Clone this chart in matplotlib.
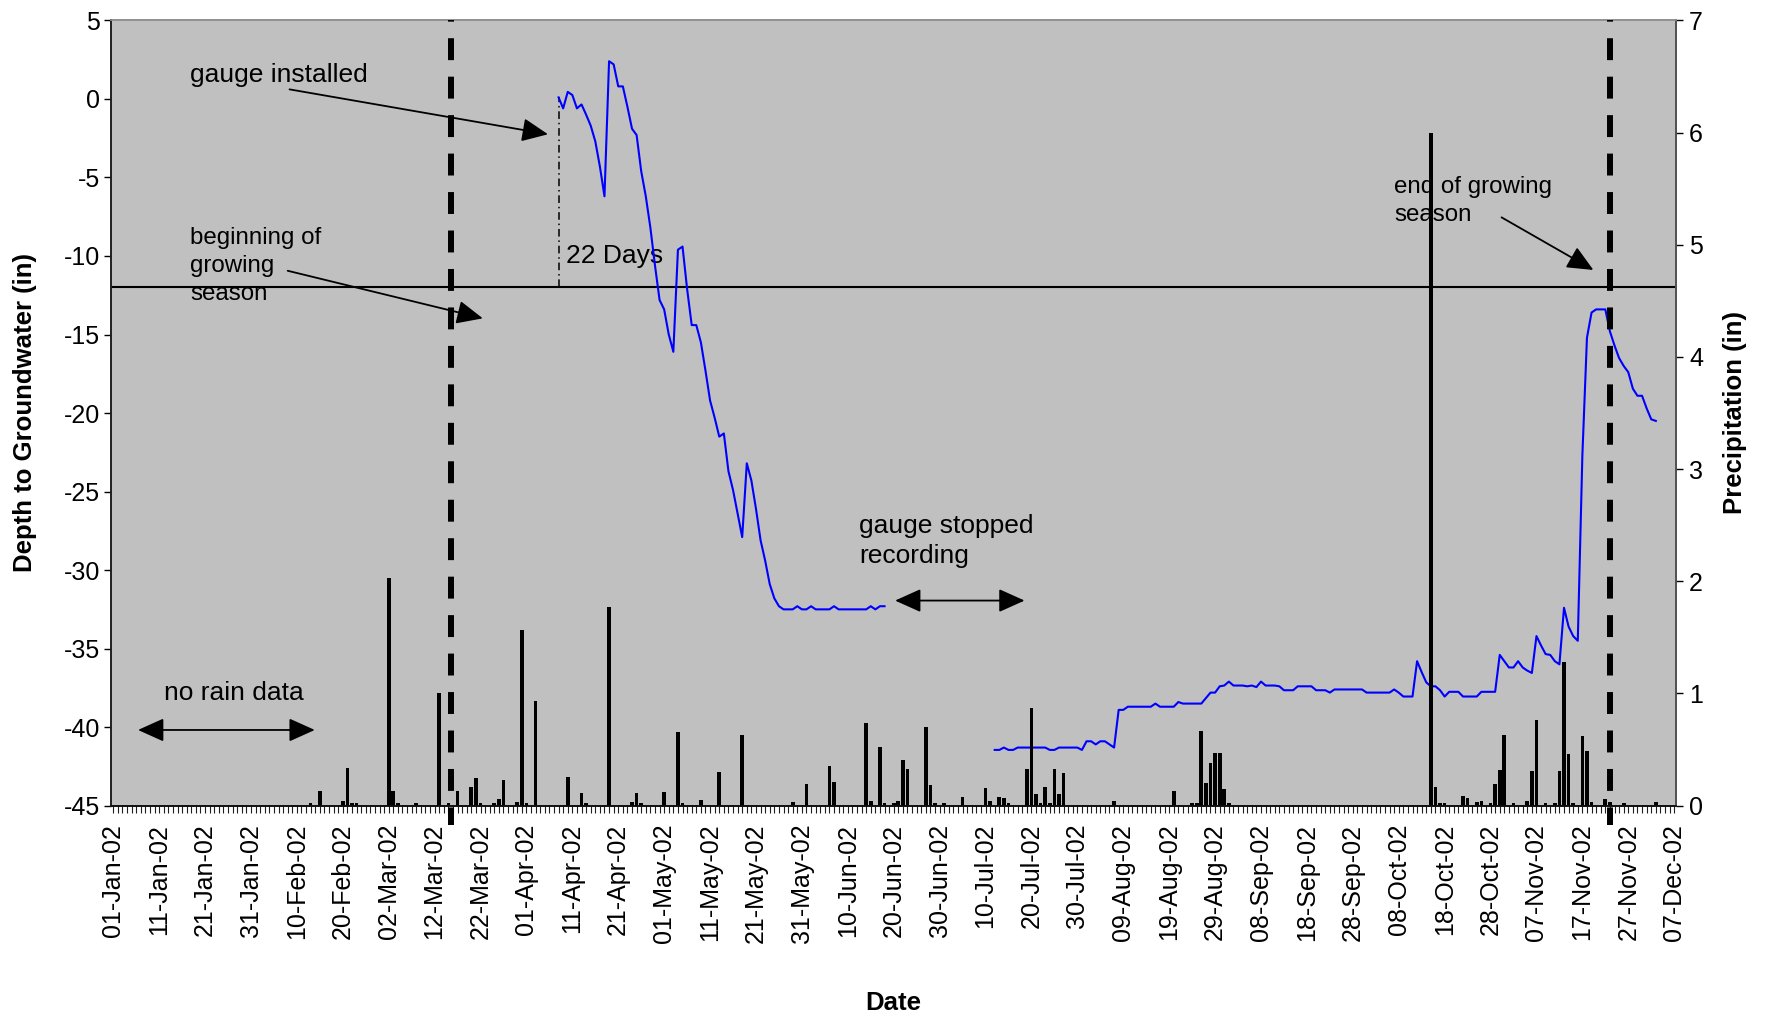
import numpy as np
import matplotlib
matplotlib.use("Agg")
import matplotlib.pyplot as plt
import matplotlib.dates as mdates
from matplotlib.lines import Line2D
from matplotlib.ticker import FixedLocator

plt.rcParams['font.family'] = ['Liberation Sans', 'DejaVu Sans']
plt.rcParams['axes.unicode_minus'] = False

# Depth to groundwater (in), one reading per day
gw1_start = '2002-04-08'
gw1_depth = [
    0.1, -0.6, 0.45, 0.25, -0.6, -0.35, -1.0, -1.7, -2.7, -4.3,
    -6.2, 2.4, 2.2, 0.8, 0.8, -0.5, -1.9, -2.3, -4.6, -6.2,
    -8.2, -10.6, -12.8, -13.4, -15.0, -16.1, -9.6, -9.4, -12.1, -14.4,
    -14.4, -15.5, -17.3, -19.2, -20.3, -21.5, -21.3, -23.7, -24.9, -26.4,
    -27.9, -23.2, -24.3, -26.1, -28.1, -29.4, -30.9, -31.8, -32.3, -32.5,
    -32.5, -32.5, -32.3, -32.5, -32.5, -32.3, -32.5, -32.5, -32.5, -32.5,
    -32.3, -32.5, -32.5, -32.5, -32.5, -32.5, -32.5, -32.5, -32.3, -32.5,
    -32.3, -32.3,
]

gw2_start = '2002-07-12'
gw2_depth = [
    -41.45, -41.45, -41.3, -41.45, -41.45, -41.3, -41.3, -41.3, -41.3, -41.3,
    -41.3, -41.3, -41.45, -41.45, -41.3, -41.3, -41.3, -41.3, -41.3, -41.45,
    -40.9, -40.9, -41.1, -40.9, -40.9, -41.1, -41.3, -38.9, -38.9, -38.7,
    -38.7, -38.7, -38.7, -38.7, -38.7, -38.5, -38.7, -38.7, -38.7, -38.7,
    -38.4, -38.5, -38.5, -38.5, -38.5, -38.5, -38.15, -37.8, -37.8, -37.4,
    -37.35, -37.1, -37.35, -37.35, -37.35, -37.4, -37.35, -37.45, -37.1, -37.35,
    -37.35, -37.35, -37.4, -37.65, -37.65, -37.65, -37.4, -37.4, -37.4, -37.4,
    -37.65, -37.65, -37.65, -37.8, -37.6, -37.6, -37.6, -37.6, -37.6, -37.6,
    -37.6, -37.8, -37.8, -37.8, -37.8, -37.8, -37.8, -37.6, -37.8, -38.05,
    -38.05, -38.05, -35.8, -36.5, -37.15, -37.4, -37.4, -37.65, -38.05, -37.75,
    -37.75, -37.75, -38.05, -38.05, -38.05, -38.05, -37.75, -37.75, -37.75, -37.75,
    -35.4, -35.8, -36.2, -36.2, -35.8, -36.2, -36.4, -36.55, -34.2, -34.8,
    -35.35, -35.4, -35.8, -36.0, -32.4, -33.6, -34.2, -34.5, -22.7, -15.2,
    -13.6, -13.4, -13.4, -13.4, -14.8, -15.7, -16.5, -17.0, -17.4, -18.45,
    -18.9, -18.9, -19.7, -20.4, -20.5,
]

# Daily precipitation (in)
rain_dates = [
    '02-13', '02-15', '02-20', '02-21', '02-22', '02-23', '03-02', '03-03', '03-04', '03-08',
    '03-13', '03-15', '03-17', '03-20', '03-21', '03-22', '03-25', '03-26', '03-27', '03-30',
    '03-31', '04-01', '04-03', '04-10', '04-13', '04-14', '04-19', '04-24', '04-25', '04-26',
    '05-01', '05-04', '05-05', '05-09', '05-13', '05-18', '05-29', '06-01', '06-06', '06-07',
    '06-14', '06-15', '06-17', '06-18', '06-20', '06-21', '06-22', '06-23', '06-27', '06-28',
    '06-29', '07-01', '07-05', '07-10', '07-11', '07-13', '07-14', '07-15', '07-19', '07-20',
    '07-21', '07-22', '07-23', '07-24', '07-25', '07-26', '07-27', '08-07', '08-20', '08-24',
    '08-25', '08-26', '08-27', '08-28', '08-29', '08-30', '08-31', '09-01', '10-15', '10-16',
    '10-17', '10-18', '10-22', '10-23', '10-25', '10-26', '10-28', '10-29', '10-30', '10-31',
    '11-02', '11-05', '11-06', '11-07', '11-09', '11-11', '11-12', '11-13', '11-14', '11-15',
    '11-17', '11-18', '11-19', '11-22', '11-23', '11-26', '12-03',
]
rain_in = [
    0.02, 0.13, 0.04, 0.34, 0.02, 0.02, 2.03, 0.13, 0.02, 0.02,
    1.00, 0.02, 0.13, 0.17, 0.25, 0.02, 0.02, 0.06, 0.23, 0.03,
    1.57, 0.02, 0.93, 0.26, 0.11, 0.02, 1.77, 0.03, 0.11, 0.02,
    0.12, 0.66, 0.02, 0.05, 0.30, 0.63, 0.03, 0.19, 0.35, 0.21,
    0.74, 0.04, 0.52, 0.02, 0.02, 0.04, 0.41, 0.33, 0.70, 0.18,
    0.02, 0.02, 0.08, 0.16, 0.04, 0.08, 0.07, 0.02, 0.33, 0.87,
    0.10, 0.02, 0.17, 0.02, 0.33, 0.10, 0.29, 0.04, 0.13, 0.02,
    0.02, 0.67, 0.20, 0.38, 0.47, 0.47, 0.15, 0.02, 6.00, 0.17,
    0.02, 0.02, 0.09, 0.07, 0.03, 0.04, 0.02, 0.19, 0.32, 0.63,
    0.02, 0.04, 0.31, 0.76, 0.02, 0.02, 0.31, 1.28, 0.46, 0.02,
    0.62, 0.49, 0.03, 0.06, 0.03, 0.02, 0.03,
]

axis_first, axis_last = '2002-01-01', '2002-12-07'
season_start = '2002-03-15T13:30'
season_end = '2002-11-23T00:00'
gauge_installed = '2002-04-08'
threshold_depth = -12
depth_ticks = list(range(-45, 6, 5))
rain_ticks = list(range(0, 8))

d0 = mdates.date2num(np.datetime64(axis_first))
d_end = mdates.date2num(np.datetime64(axis_last))


def day(n):
    return d0 + n


gw1_x = mdates.date2num(np.datetime64(gw1_start) + np.arange(len(gw1_depth)))
gw2_x = mdates.date2num(np.datetime64(gw2_start) + np.arange(len(gw2_depth)))
rain_x = mdates.date2num(np.array(['2002-' + s for s in rain_dates], dtype='datetime64[D]'))

fig = plt.figure(figsize=(17.75, 10.21), dpi=100)
ax = fig.add_axes([0.0625, 0.2109, 0.882, 0.7691])
ax.set_facecolor('#C0C0C0')
ax2 = ax.twinx()

# groundwater line
ax.plot(gw1_x, gw1_depth, color='#0000FF', lw=1.5, zorder=2)
ax.plot(gw2_x, gw2_depth, color='#0000FF', lw=1.5, zorder=2)

# threshold depth
ax.axhline(threshold_depth, color='black', lw=1.5, zorder=1.8)

# gauge installation marker
gx = mdates.date2num(np.datetime64(gauge_installed))
ax.plot([gx, gx], [threshold_depth, gw1_depth[0]], color='black', lw=1.1,
        linestyle=(0, (5, 2.5, 1, 2.5)), zorder=1.9)

# precipitation bars
ax2.bar(rain_x, rain_in, width=0.8, color='black', linewidth=0, zorder=2)

ax.set_xlim(d0 - 0.5, d_end + 0.5)
ax.set_ylim(-45, 5)
ax2.set_ylim(0, 7)
ax.set_yticks(depth_ticks)
ax2.set_yticks(rain_ticks)

# growing season boundaries (drawn over the bars)
for s in (season_start, season_end):
    xs = mdates.date2num(np.datetime64(s))
    ln = Line2D([xs, xs], [5, -46.2], transform=ax.transData, color='black',
                lw=4.3, linestyle=(3.39, (3.67, 2.77)), solid_capstyle='butt',
                dash_capstyle='butt', clip_on=False, zorder=5)
    ax2.add_artist(ln)

# x axis ticks and labels
major = mdates.date2num(np.arange(np.datetime64(axis_first), np.datetime64(axis_last) + 1,
                                  np.timedelta64(10, 'D')))
minor = mdates.date2num(np.arange(np.datetime64(axis_first), np.datetime64(axis_last) + 1))
ax.xaxis.set_major_locator(FixedLocator(major))
ax.xaxis.set_minor_locator(FixedLocator(minor))
ax.xaxis.set_major_formatter(mdates.DateFormatter('%d-%b-%y'))
ax.tick_params(axis='x', which='both', direction='out', length=5, width=0.8,
               color='#202020')
ax.tick_params(axis='x', which='major', labelsize=18, labelrotation=90, pad=8)
ax.tick_params(axis='y', direction='out', length=5, width=1, labelsize=18, pad=3)
ax2.tick_params(axis='y', direction='out', length=5, width=1, labelsize=18, pad=4)

for a in (ax, ax2):
    a.spines['top'].set_color('#909090')
    a.spines['right'].set_color('#505050')
    a.spines['left'].set_color('#202020')
    a.spines['bottom'].set_color('#101010')
    for sp in a.spines.values():
        sp.set_linewidth(1.2)

fig.text(25 / 1775, 1 - 413 / 1021, 'Depth to Groundwater (in)', rotation=90,
         ha='center', va='center', fontsize=18.5, fontweight='bold')
fig.text(1735 / 1775, 1 - 413 / 1021, 'Precipitation (in)', rotation=90,
         ha='center', va='center', fontsize=18.5, fontweight='bold')
fig.text(893 / 1775, 1 - 1003 / 1021, 'Date', ha='center', va='center',
         fontsize=18.5, fontweight='bold')

# annotations (multi-line texts are anchored on the baseline of their last line)
txt = dict(fontsize=19, color='black', zorder=1.5)
small = dict(fontsize=17.4, color='black', zorder=1.5)
head = dict(arrowstyle='-|>,head_length=0.4,head_width=0.18', mutation_scale=40,
            color='black', lw=1.3, shrinkA=0, shrinkB=0)
both = dict(arrowstyle='<|-|>,head_length=0.4,head_width=0.18', mutation_scale=40,
            color='black', lw=1.3, shrinkA=0, shrinkB=0)

ax.text(day(16.7), 1.1, 'gauge installed', ha='left', va='baseline', **txt)
ax.annotate('', xy=(day(94.7), -2.25), xytext=(day(38.4), 0.61), arrowprops=head)

ax.text(day(16.7), -12.83, 'beginning of\ngrowing\nseason', ha='left', va='baseline',
        linespacing=1.36, **small)
ax.annotate('', xy=(day(80.5), -13.97), xytext=(day(38.0), -10.94), arrowprops=head)

ax.text(day(98.6), -10.43, '22 Days', ha='left', va='baseline', **txt)

ax.text(day(162.5), -29.55, 'gauge stopped\nrecording', ha='left', va='baseline',
        linespacing=1.32, **txt)
ax.annotate('', xy=(day(198.5), -31.94), xytext=(day(170.3), -31.94), arrowprops=both)

ax.text(day(279.0), -7.75, 'end of growing\nseason', ha='left', va='baseline',
        linespacing=1.35, **small)
ax.annotate('', xy=(day(322.4), -10.89), xytext=(day(302.4), -7.54), arrowprops=head)

ax.text(day(11.0), -38.27, 'no rain data', ha='left', va='baseline', **txt)
ax.annotate('', xy=(day(43.9), -40.18), xytext=(day(5.4), -40.18), arrowprops=both)

fig.savefig('out.png', dpi=100)
